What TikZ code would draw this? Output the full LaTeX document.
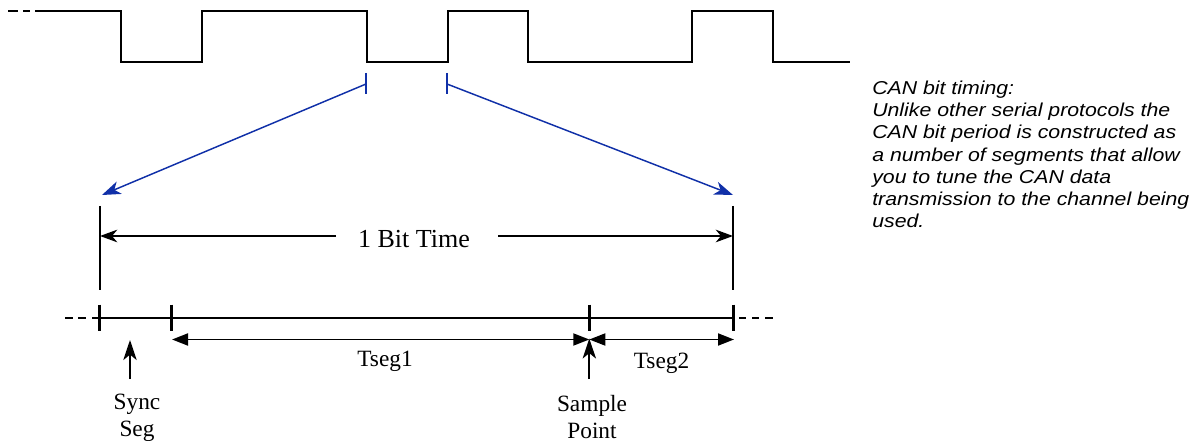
\documentclass[tikz,border=0pt]{standalone}
\usepackage{fontspec}
\setmainfont{Liberation Serif}
\newfontfamily\notefont[FakeStretch=1.14]{Liberation Sans}
\usetikzlibrary{arrows.meta}
\definecolor{zoomblue}{RGB}{16,48,168}
\begin{document}
\begin{tikzpicture}[x=0.75pt,y=-0.75pt,
  wave/.style={line width=1.4pt, line join=miter},
  zoomline/.style={draw=zoomblue, line width=1.1pt},
  zoomarrow/.style={zoomline, -{Stealth[length=14pt,width=10pt,inset=4pt]}},
  dimline/.style={line width=1.2pt},
  dimarrow/.style={line width=1.2pt, -{Stealth[length=13pt,width=9.5pt,inset=4pt]}},
  segarrow/.style={line width=1.4pt, {Triangle[length=12pt,width=9pt]}-{Triangle[length=12pt,width=9pt]}},
  uparrow/.style={line width=1.3pt, -{Stealth[length=15pt,width=10pt,inset=4pt]}},
  tick/.style={line width=2.3pt},
  bigfont/.style={font=\fontsize{19.5}{23}\selectfont, inner sep=0pt},
  lblfont/.style={font=\fontsize{17.5}{20.2}\selectfont, inner sep=0pt, align=center},
  note/.style={font=\notefont\itshape\fontsize{14}{16.7}\selectfont, inner sep=0pt, align=left}
]
\useasboundingbox (0,0) rectangle (1198,441);

% waveform
\draw[wave] (8,11) -- (18,11);
\draw[wave] (23,11) -- (30,11);
\draw[wave] (35,11) -- (121,11) -- (121,62) -- (202,62) -- (202,11) -- (367,11)
  -- (367,62) -- (448,62) -- (448,11) -- (528,11) -- (528,62) -- (692,62)
  -- (692,11) -- (773,11) -- (773,62) -- (850,62);

% zoom markers
\coordinate (zl) at (366,84);
\coordinate (zr) at (447,84);
\coordinate (bl) at (102,195);
\coordinate (br) at (733,195);
\draw[zoomline] (366,73) -- (366,94);
\draw[zoomline] (447,73) -- (447,94);
\draw[zoomarrow] (zl) -- (bl);
\draw[zoomarrow] (zr) -- (br);

% 1 bit time
\coordinate (vlt) at (100,206);
\coordinate (vlb) at (100,290);
\coordinate (vrt) at (733,206);
\coordinate (vrb) at (733,290);
\draw[dimline] (vlt) -- (vlb);
\draw[dimline] (vrt) -- (vrb);
\node[bigfont, anchor=base] (bittime) at (414,247.3) {1 Bit Time};
\coordinate (bitl) at (100,236);
\coordinate (bitr) at (733,236);
\draw[dimarrow] (336,236) -- (bitl);
\draw[dimarrow] (498,236) -- (bitr);

% segment timeline
\draw[dimline] (65,318) -- (73,318);
\draw[dimline] (78,318) -- (86,318);
\draw[dimline] (92,318) -- (733,318);
\draw[dimline] (739,318) -- (746,318);
\draw[dimline] (752,318) -- (759,318);
\draw[dimline] (765,318) -- (773,318);
\coordinate (t0) at (99.5,318);
\coordinate (t1) at (171.7,318);
\coordinate (t2) at (589.3,318);
\coordinate (t3) at (733.3,318);
\foreach \t in {t0,t1,t2,t3} \draw[tick] ([yshift=10]\t) -- ([yshift=-10]\t);

\coordinate (a1) at (172,339.5);
\coordinate (a2) at (589.3,339.5);
\coordinate (a3) at (734,339.5);
\draw[segarrow] (a1) -- (a2);
\draw[segarrow] (a2) -- (a3);
\node[lblfont, anchor=base] (tseg1) at (385,366.7) {Tseg1};
\node[lblfont, anchor=base] (tseg2) at (661.5,368) {Tseg2};

\node[lblfont, anchor=base] (sync) at (137,409.3) {Sync};
\node[lblfont, anchor=base] (seg) at (137,436.7) {Seg};
\node[lblfont, anchor=base] (sample) at (592,411.7) {Sample};
\node[lblfont, anchor=base] (point) at (592,438) {Point};
\coordinate (su) at (130,379);
\coordinate (sp) at (589.3,379);
\draw[uparrow] (su) -- (130,340);
\draw[uparrow] (sp) -- (589.3,338.5);

% note
\node[note, anchor=base west] (note) at (872,228) {CAN bit timing:\\
Unlike other serial protocols the\\
CAN bit period is constructed as\\
a number of segments that allow\\
you to tune the CAN data\\
transmission to the channel being\\
used.};
\end{tikzpicture}
\end{document}
